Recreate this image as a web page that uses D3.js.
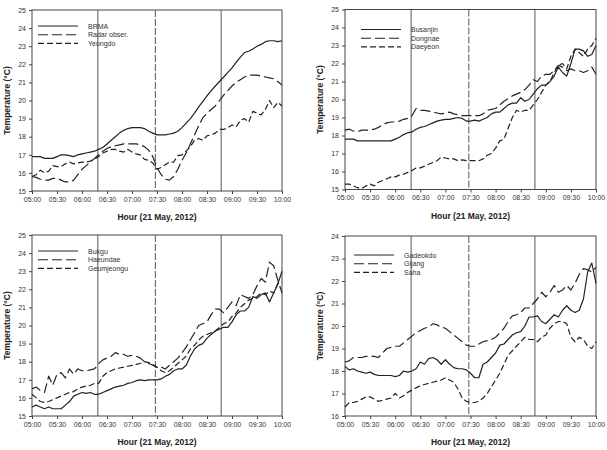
<!DOCTYPE html>
<html><head><meta charset="utf-8">
<script src="https://cdn.jsdelivr.net/npm/d3@7"></script>
<style>body{margin:0;background:#fff}svg{display:block}</style>
</head><body>
<svg id="c" width="607" height="450"></svg>
<script>
// minutes after 05:00, sampled every 5 minutes
const minutes = [0,5,10,15,20,25,30,35,40,45,50,55,60,65,70,75,80,85,90,95,100,105,110,115,120,125,130,135,140,145,150,155,160,165,170,175,180,185,190,195,200,205,210,215,220,225,230,235,240,245,250,255,260,265,270,275,280,285,290,295,300];
const xTickLabels = ["05:00","05:30","06:00","06:30","07:00","07:30","08:00","08:30","09:00","09:30","10:00"];
const eventLines = [79, 148, 227]; // minutes after 05:00 : solid, dashed, solid

const brma = [16.9,16.9,16.9,16.8,16.8,16.8,16.9,17.0,17.0,16.95,16.9,17.0,
17.05,17.1,17.15,17.2,17.3,17.4,17.6,17.8,18.0,18.2,18.35,18.45,
18.5,18.5,18.5,18.45,18.3,18.2,18.1,18.1,18.1,18.15,18.2,18.3,
18.5,18.75,19.0,19.3,19.65,19.95,20.25,20.55,20.8,21.05,21.3,21.55,
21.8,22.1,22.4,22.65,22.72,22.85,23.0,23.1,23.25,23.3,23.3,23.25,23.3];
const radar = [15.8,15.75,15.65,15.6,15.6,15.7,15.7,15.6,15.5,15.5,15.6,15.9,
16.2,16.4,16.6,16.8,17.0,17.2,17.35,17.45,17.5,17.55,17.6,17.6,
17.6,17.6,17.55,17.45,17.25,16.9,16.3,15.9,15.65,15.6,15.8,16.2,
16.7,17.1,17.6,18.1,18.6,19.05,19.3,19.5,19.7,20.0,20.3,20.55,
20.8,21.0,21.15,21.3,21.4,21.4,21.4,21.35,21.3,21.25,21.2,21.05,20.85];
const yeongdo = [15.8,15.9,16.15,16.0,16.1,16.4,16.35,16.35,16.5,16.6,16.5,16.55,
16.6,16.6,16.65,16.75,16.9,17.1,17.2,17.3,17.3,17.2,17.15,17.3,
17.15,17.05,17.0,16.75,16.7,16.55,16.2,16.3,16.45,16.6,16.6,16.95,
17.0,17.2,17.45,17.8,17.9,17.8,18.05,18.1,18.2,18.4,18.4,18.5,
18.65,18.55,18.9,19.0,18.8,19.4,19.3,19.2,19.5,20.0,19.6,19.9,19.7];

const busanjin = [17.8,17.8,17.8,17.7,17.7,17.7,17.7,17.7,17.7,17.7,17.7,17.7,
17.8,17.9,18.05,18.15,18.2,18.35,18.45,18.5,18.6,18.7,18.8,18.85,
18.9,18.9,18.95,19.0,18.95,18.8,18.8,18.85,18.8,18.9,19.0,19.2,
19.3,19.3,19.5,19.7,19.8,19.8,20.1,19.9,20.0,20.3,20.6,20.8,
20.8,21.0,21.3,21.8,21.5,21.3,22.0,22.8,22.8,22.7,22.4,22.5,23.0];
const dongnae = [18.3,18.35,18.25,18.2,18.3,18.3,18.3,18.35,18.45,18.6,18.7,18.75,
18.75,18.8,18.9,18.95,19.1,19.5,19.4,19.4,19.35,19.3,19.25,19.2,
19.25,19.3,19.2,19.15,19.1,19.1,19.1,19.1,19.1,19.2,19.4,19.45,
19.5,19.7,19.9,20.05,20.2,20.3,20.4,20.55,20.8,21.1,21.0,21.3,
21.4,21.4,21.6,21.9,21.8,21.6,21.7,21.6,21.6,21.5,21.6,21.8,21.4];
const daeyeon = [15.3,15.3,15.2,15.1,15.05,15.2,15.3,15.2,15.4,15.5,15.6,15.7,
15.7,15.8,15.85,15.95,16.05,16.2,16.2,16.3,16.4,16.5,16.6,16.8,
16.75,16.7,16.7,16.6,16.65,16.6,16.6,16.6,16.6,16.7,16.9,17.0,
17.3,17.7,17.8,18.4,19.0,19.4,19.3,19.4,19.4,19.7,20.0,20.4,
20.8,21.0,21.5,21.9,22.0,21.7,22.4,22.8,22.6,22.4,22.8,23.0,23.4];

const bukgu = [15.5,15.6,15.5,15.4,15.5,15.4,15.4,15.4,15.6,15.8,16.1,16.2,
16.3,16.25,16.3,16.2,16.2,16.3,16.4,16.5,16.6,16.65,16.7,16.8,
16.85,16.95,17.0,16.95,17.0,17.0,17.0,17.05,17.2,17.3,17.5,17.6,
17.6,17.8,18.3,18.7,18.9,19.0,19.3,19.5,19.7,19.8,19.9,19.9,
20.2,20.6,20.8,20.8,21.0,21.6,21.5,21.7,21.8,21.3,21.8,22.3,23.0];
const haeundae = [16.5,16.6,16.4,16.3,17.2,16.7,17.3,17.4,17.1,17.6,17.3,17.6,
17.5,17.5,17.55,17.6,17.9,18.1,18.2,18.3,18.5,18.4,18.4,18.3,
18.35,18.3,18.2,18.0,17.9,17.8,17.7,17.7,17.6,17.8,18.0,18.2,
18.5,18.8,19.2,19.6,20.0,20.1,20.2,20.6,20.9,20.9,20.7,21.0,
21.3,21.1,21.7,21.6,21.5,21.7,22.2,22.6,22.4,23.5,23.3,22.5,21.8];
const geumjeongu = [16.2,16.0,15.8,15.75,15.8,15.9,16.0,16.1,16.2,16.3,16.35,16.5,
16.6,16.65,16.7,16.8,16.8,17.2,17.4,17.5,17.6,17.65,17.7,17.75,
17.8,17.85,17.9,18.0,17.95,17.85,17.7,17.5,17.4,17.5,17.7,17.9,
18.1,18.3,18.7,18.9,19.2,19.4,19.5,19.6,19.7,19.9,20.1,20.2,
20.5,20.7,21.0,21.2,21.4,21.5,21.6,21.8,21.7,21.9,21.8,22.3,22.4];

const gadeokdo = [18.2,18.05,18.1,18.0,17.95,17.9,17.95,17.85,17.8,17.8,17.8,17.8,
17.75,17.8,18.0,17.95,18.0,18.1,18.4,18.3,18.55,18.6,18.5,18.3,
18.5,18.3,18.15,18.1,18.1,18.05,17.9,17.7,17.7,18.3,18.4,18.6,
18.8,19.15,19.2,19.4,19.6,19.7,19.75,20.0,20.4,20.4,20.45,20.2,
20.1,20.3,20.5,20.4,20.7,20.9,20.7,20.6,20.7,21.2,22.4,22.8,21.9];
const gijang = [18.4,18.45,18.6,18.6,18.6,18.65,18.65,18.65,18.6,18.8,19.0,19.05,
19.1,19.1,19.25,19.4,19.55,19.7,19.8,19.9,19.95,20.1,20.05,19.95,
19.9,19.75,19.6,19.45,19.3,19.15,19.1,19.1,19.2,19.3,19.35,19.4,
19.5,19.7,19.9,20.2,20.45,20.5,20.6,20.8,20.8,21.0,21.2,21.5,
21.3,21.5,21.8,21.5,21.6,21.8,21.6,21.9,22.3,22.55,22.5,22.4,22.6];
const saha = [16.4,16.6,16.6,16.65,16.75,16.85,16.85,16.75,16.65,16.7,16.75,16.8,
17.0,16.8,16.9,17.05,17.15,17.25,17.35,17.4,17.45,17.5,17.55,17.6,
17.7,17.6,17.5,17.2,16.8,16.65,16.6,16.6,16.65,16.8,17.0,17.3,
17.6,17.9,18.3,18.7,18.9,19.1,19.3,19.5,19.4,19.4,19.3,19.5,
19.6,19.9,20.1,20.2,20.2,20.1,19.5,19.3,19.5,19.4,19.1,19.0,19.3];

const panels = [
  {names:["BRMA","Radar obser.","Yeongdo"], series:[brma,radar,yeongdo], yTicks:[15,16,17,18,19,20,21,22,23,24,25]},
  {names:["Busanjin","Dongnae","Daeyeon"], series:[busanjin,dongnae,daeyeon], yTicks:[15,16,17,18,19,20,21,22,23,24,25]},
  {names:["Bukgu","Haeundae","Geumjeongu"], series:[bukgu,haeundae,geumjeongu], yTicks:[15,16,17,18,19,20,21,22,23,24,25]},
  {names:["Gadeokdo","Gijang","Saha"], series:[gadeokdo,gijang,saha], yTicks:[16,17,18,19,20,21,22,23,24]}
];

// layout (pixels)
const boxes = [
  {x0:32, x1:282, y0:10, y1:191, lx:6, ly:16},
  {x0:345, x1:596, y0:9.5, y1:189.5, lx:16, ly:20},
  {x0:32, x1:282, y0:235, y1:416, lx:6, ly:16},
  {x0:345, x1:596, y0:236, y1:416, lx:9, ly:19}
];
const dashes = [null, "10,4", "6,3"];
const ink = "#222";
const FONT = "'Liberation Sans', Arial, Helvetica, sans-serif";

const svg = d3.select("#c");
panels.forEach((p, i) => {
  const b = boxes[i];
  const x = d3.scaleLinear().domain([0, 300]).range([b.x0, b.x1]);
  const y = d3.scaleLinear().domain([p.yTicks[0], p.yTicks[p.yTicks.length-1]]).range([b.y1, b.y0]);
  const g = svg.append("g");

  // axes
  const xAxis = d3.axisBottom(x).tickValues(xTickLabels.map((_, k) => k*30))
      .tickFormat((d, k) => xTickLabels[k]).tickSize(3).tickPadding(3);
  const gx = g.append("g").attr("transform", `translate(0,${b.y1})`).call(xAxis);
  const yAxis = d3.axisLeft(y).tickValues(p.yTicks).tickSize(3).tickPadding(3).tickFormat(d3.format("d"));
  const gy = g.append("g").attr("transform", `translate(${b.x0},0)`).call(yAxis);
  [gx, gy].forEach(a => {
    a.select(".domain").remove();
    a.selectAll("line").attr("stroke", "#444");
    a.selectAll("text").attr("font-family", FONT).attr("font-size", 7).attr("fill", "#333");
  });

  // frame
  g.append("rect").attr("x", b.x0).attr("y", b.y0).attr("width", b.x1-b.x0).attr("height", b.y1-b.y0)
    .attr("fill", "none").attr("stroke", "#444").attr("stroke-width", 1);

  // event lines
  eventLines.forEach((t, k) => {
    g.append("line").attr("x1", x(t)).attr("x2", x(t)).attr("y1", b.y0).attr("y2", b.y1)
      .attr("stroke", "#555").attr("stroke-width", 1)
      .attr("stroke-dasharray", k === 1 ? "7,2" : null);
  });

  // series
  const line = d3.line().x((d, k) => x(minutes[k])).y(d => y(d));
  p.series.forEach((s, k) => {
    g.append("path").datum(s).attr("d", line).attr("fill", "none")
      .attr("stroke", ink).attr("stroke-width", 1.2)
      .attr("stroke-dasharray", dashes[k]).attr("stroke-linejoin", "round");
  });

  // legend
  p.names.forEach((n, k) => {
    const ly = b.y0 + b.ly + k*8.7;
    g.append("line").attr("x1", b.x0 + b.lx).attr("x2", b.x0 + b.lx + 40).attr("y1", ly).attr("y2", ly)
      .attr("stroke", ink).attr("stroke-width", 1.1).attr("stroke-dasharray", dashes[k]);
    g.append("text").attr("x", b.x0 + b.lx + 50).attr("y", ly + 2.5).text(n)
      .attr("font-family", FONT).attr("font-size", 7).attr("fill", "#333");
  });

  // axis titles
  g.append("text").attr("x", (b.x0 + b.x1)/2).attr("y", b.y1 + 29).attr("text-anchor", "middle")
    .attr("font-family", FONT).attr("font-size", 8.5).attr("font-weight", "bold").attr("fill", ink)
    .text("Hour (21 May, 2012)");
  g.append("text").attr("transform", `translate(${b.x0 - 22},${(b.y0 + b.y1)/2}) rotate(-90)`)
    .attr("text-anchor", "middle")
    .attr("font-family", FONT).attr("font-size", 8.5).attr("font-weight", "bold").attr("fill", ink)
    .text("Temperature (°C)");
});
</script>
</body></html>
